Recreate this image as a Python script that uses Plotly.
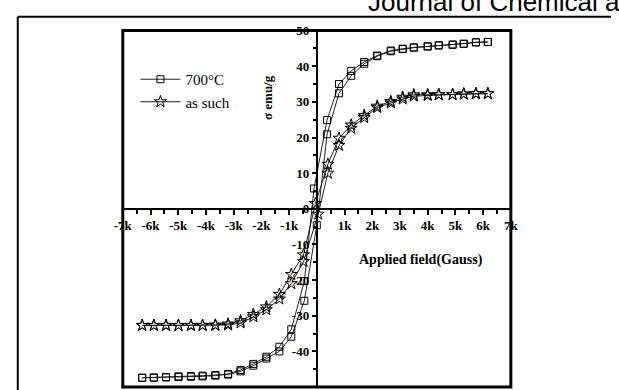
import plotly.graph_objects as go

# ---------------- data (field in Gauss, magnetisation in emu/g) ----------------
h700_desc = [6170, 5740, 5300, 4900, 4400, 4000, 3500, 3100, 2670, 2180, 1710, 1240, 800, 370, -100,
             -450, -920, -1350, -1820, -2290, -2750, -3200, -3660, -4120, -4540, -4990, -5440, -5880, -6300]
m700_desc = [46.8, 46.7, 46.3, 46.1, 45.9, 45.6, 45.3, 44.9, 44.4, 43.0, 41.2, 38.7, 35.0, 24.9, 5.7,
             -20.3, -33.8, -38.7, -41.5, -43.5, -45.2, -46.3, -46.8, -47.0, -47.1, -47.2, -47.3, -47.4, -47.4]
h700_asc = [-6300, -5880, -5440, -4990, -4540, -4120, -3660, -3200, -2750, -2290, -1820, -1350, -920, -450, 0,
            370, 800, 1240, 1710, 2180, 2670, 3100, 3500, 4000, 4400, 4900, 5300, 5740, 6170]
m700_asc = [-47.4, -47.3, -47.2, -47.0, -46.9, -46.8, -46.6, -46.5, -45.6, -44.0, -42.0, -40.0, -35.9, -25.8, -4.6,
            20.9, 32.4, 37.3, 40.7, 42.8, 44.2, 44.8, 45.2, 45.5, 45.8, 46.0, 46.3, 46.7, 46.8]

hraw_desc = [6170, 5740, 5300, 4900, 4400, 4000, 3500, 3100, 2670, 2180, 1710, 1240, 800, 400, -50,
             -480, -920, -1350, -1820, -2290, -2750, -3200, -3660, -4120, -4540, -4990, -5440, -5880, -6300]
mraw_desc = [32.3, 32.3, 32.2, 32.1, 32.0, 32.0, 32.0, 31.3, 30.1, 28.8, 26.2, 23.5, 19.8, 12.5, 1.5,
             -12.9, -18.4, -24.0, -27.5, -29.6, -31.4, -32.3, -32.6, -32.7, -32.7, -32.7, -32.7, -32.7, -32.7]
hraw_asc = [-6300, -5880, -5440, -4990, -4540, -4120, -3660, -3200, -2750, -2290, -1820, -1350, -920, -480, 50,
            400, 800, 1240, 1710, 2180, 2670, 3100, 3500, 4000, 4400, 4900, 5300, 5740, 6170]
mraw_asc = [-32.7, -32.7, -32.7, -32.7, -32.7, -32.7, -32.7, -32.6, -32.0, -30.3, -28.3, -25.3, -21.0, -14.8, -1.5,
            10.0, 17.8, 22.6, 25.6, 28.4, 29.7, 30.8, 31.6, 31.8, 32.0, 32.0, 32.2, 32.3, 32.3]

x_tick_vals = [-7000, -6000, -5000, -4000, -3000, -2000, -1000, 0, 1000, 2000, 3000, 4000, 5000, 6000, 7000]
x_tick_text = ["-7k", "-6k", "-5k", "-4k", "-3k", "-2k", "-1k", "", "1k", "2k", "3k", "4k", "5k", "6k", "7k"]
y_tick_vals = [-50, -40, -30, -20, -10, 0, 10, 20, 30, 40, 50]
y_tick_text = ["-50", "-40", "-30", "-20", "-10", "0", "10", "20", "30", "40", "50"]

W, H = 619, 390
xd = [117 / W, 516 / W]
yd = [(H - 387) / H, (H - 24) / H]

SERIF = "Liberation Serif"

fig = go.Figure()
fig.add_trace(go.Scatter(
    x=h700_desc + h700_asc, y=m700_desc + m700_asc, mode="lines+markers", name="700°C",
    line=dict(color="#222222", width=1),
    marker=dict(symbol="square-open", size=7, color="black", line=dict(width=1)),
))
fig.add_trace(go.Scatter(
    x=hraw_desc + hraw_asc, y=mraw_desc + mraw_asc, mode="lines+markers", name="as such",
    line=dict(color="#222222", width=1),
    marker=dict(symbol="star-open", size=9, color="black", line=dict(width=1)),
))

fig.update_layout(
    width=W, height=H,
    margin=dict(l=0, r=0, t=0, b=0),
    paper_bgcolor="white", plot_bgcolor="white",
    showlegend=True,
    legend=dict(x=130 / W, y=(H - 57) / H, xanchor="left", yanchor="top", itemwidth=40,
                bgcolor="rgba(0,0,0,0)", font=dict(family=SERIF, size=15, color="black"),
                tracegroupgap=0),
    xaxis=dict(domain=xd, range=[-7000, 7000], anchor="free", position=(yd[0] + yd[1]) / 2,
               showline=True, linecolor="black", linewidth=2, showgrid=False, zeroline=False,
               tickmode="array", tickvals=x_tick_vals, ticktext=x_tick_text,
               ticks="outside", ticklen=5, tickwidth=2, tickcolor="black",
               minor=dict(tickmode="linear", tick0=500, dtick=1000, ticks="outside", ticklen=4,
                          tickwidth=2, tickcolor="black"),
               tickfont=dict(family=SERIF, size=13, color="black", weight="bold")),
    yaxis=dict(domain=yd, range=[-50, 50], anchor="free", position=(xd[0] + xd[1]) / 2,
               showline=True, linecolor="black", linewidth=2, showgrid=False, zeroline=False,
               tickmode="array", tickvals=y_tick_vals, ticktext=y_tick_text,
               ticks="outside", ticklen=4, tickwidth=2, tickcolor="black",
               minor=dict(tickmode="linear", tick0=5, dtick=10, ticks="outside", ticklen=3,
                          tickwidth=1.5, tickcolor="black"),
               tickfont=dict(family=SERIF, size=13, color="black", weight="bold")),
)

# inner frame of the plot
fig.add_shape(type="rect", xref="x domain", yref="y domain", x0=0, x1=1, y0=0, y1=1,
              line=dict(color="black", width=3), layer="above")
# outer page frame (top and left)
fig.add_shape(type="line", xref="paper", yref="paper", x0=9 / W, x1=1, y0=(H - 10) / H, y1=(H - 10) / H,
              line=dict(color="black", width=2))
fig.add_shape(type="line", xref="paper", yref="paper", x0=9 / W, x1=9 / W, y0=0, y1=(H - 10) / H,
              line=dict(color="black", width=2))

fig.add_annotation(text="σ emu/g", textangle=-90, xref="paper", yref="paper",
                   x=266 / W, y=(H - 92) / H, xanchor="center", yanchor="middle", showarrow=False,
                   font=dict(family=SERIF, size=13, color="black", weight="bold"))
fig.add_annotation(text="Applied field(Gauss)", xref="paper", yref="paper",
                   x=424 / W, y=(H - 258) / H, xanchor="center", yanchor="middle", showarrow=False,
                   font=dict(family=SERIF, size=14, color="black", weight="bold"))
fig.add_annotation(text="Journal of Chemical a", xref="paper", yref="paper",
                   x=367 / W, y=(H - 12) / H, xanchor="left", yanchor="bottom", showarrow=False,
                   font=dict(family="Liberation Sans", size=26, color="black"))

fig.write_html("out.html", post_script="document.body.style.margin='0';",
               config={"displayModeBar": False})
